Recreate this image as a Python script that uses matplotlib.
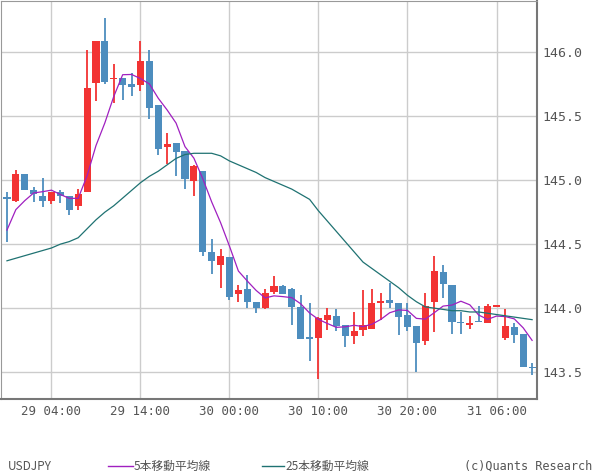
import matplotlib
matplotlib.use("Agg")
import matplotlib.pyplot as plt
import numpy as np
import pandas as pd

# hourly USDJPY candles, first candle = 28th 23:00
opens = [144.87, 144.84, 145.05, 144.92, 144.88, 144.84, 144.91, 144.88, 144.80, 144.91,
         145.76, 146.09, 145.79, 145.80, 145.75, 145.74, 145.93, 145.59, 145.26, 145.29,
         145.23, 144.99, 145.07, 144.44, 144.34, 144.40, 144.11, 144.15, 144.05, 144.00,
         144.13, 144.17, 144.15, 144.01, 143.77, 143.77, 143.91, 143.94, 143.87, 143.78,
         143.83, 143.84, 144.04, 144.06, 144.04, 143.95, 143.86, 143.74, 144.05, 144.28,
         144.18, 143.89, 143.87, 143.90, 143.88, 144.01, 143.77, 143.85, 143.80, 143.54]
highs = [144.91, 145.08, 145.05, 144.95, 145.02, 144.91, 144.92, 144.88, 144.93, 146.02,
         146.09, 146.27, 145.91, 145.80, 145.84, 146.09, 146.02, 145.59, 145.37, 145.29,
         145.23, 145.12, 145.07, 144.54, 144.46, 144.40, 144.18, 144.26, 144.05, 144.15,
         144.25, 144.18, 144.16, 144.10, 144.04, 143.93, 144.00, 143.99, 143.87, 143.97,
         144.14, 144.15, 144.12, 144.20, 144.04, 144.04, 143.86, 144.12, 144.41, 144.34,
         144.18, 143.97, 143.94, 144.02, 144.03, 144.02, 143.99, 143.88, 143.80, 143.57]
lows = [144.52, 144.83, 144.92, 144.83, 144.79, 144.81, 144.82, 144.73, 144.77, 144.91,
        145.62, 145.75, 145.60, 145.63, 145.66, 145.70, 145.48, 145.20, 145.13, 145.03,
        144.93, 144.88, 144.41, 144.27, 144.16, 144.06, 144.05, 144.00, 143.96, 143.99,
        144.11, 144.11, 143.87, 143.76, 143.59, 143.45, 143.83, 143.82, 143.70, 143.72,
        143.78, 143.84, 143.91, 144.00, 143.79, 143.82, 143.50, 143.71, 143.81, 144.08,
        143.80, 143.80, 143.84, 143.89, 143.88, 144.01, 143.75, 143.73, 143.54, 143.48]
closes = [144.85, 145.05, 144.92, 144.89, 144.84, 144.91, 144.88, 144.77, 144.89, 145.72,
          146.09, 145.77, 145.80, 145.74, 145.73, 145.93, 145.56, 145.24, 145.28, 145.22,
          145.01, 145.11, 144.44, 144.37, 144.41, 144.09, 144.14, 144.05, 144.00, 144.12,
          144.17, 144.11, 144.01, 143.76, 143.76, 143.92, 143.95, 143.86, 143.78, 143.82,
          143.87, 144.04, 144.05, 144.04, 143.93, 143.85, 143.73, 144.02, 144.29, 144.19,
          143.89, 143.88, 143.88, 143.89, 144.02, 144.02, 143.86, 143.79, 143.54, 143.53]
# 5-bar MA for the first four bars (prior data not shown)
ma5_head = [144.61, 144.77, 144.84, 144.90]
# 25-bar MA
ma25 = [144.37, 144.39, 144.41, 144.43, 144.45, 144.47, 144.50, 144.52, 144.55, 144.62,
        144.69, 144.75, 144.80, 144.86, 144.92, 144.98, 145.03, 145.07, 145.12, 145.17,
        145.20, 145.21, 145.21, 145.21, 145.19, 145.15, 145.12, 145.09, 145.06, 145.02,
        144.99, 144.96, 144.93, 144.89, 144.85, 144.76, 144.68, 144.60, 144.52, 144.44,
        144.36, 144.31, 144.26, 144.21, 144.16, 144.10, 144.05, 144.01, 144.00, 143.99,
        143.98, 143.98, 143.97, 143.97, 143.96, 143.95, 143.94, 143.93, 143.92, 143.91]
tick_pos = [5, 15, 25, 35, 45, 55]
tick_labels = ["29 04:00", "29 14:00", "30 00:00", "30 10:00", "30 20:00", "31 06:00"]
y_ticks = [143.5, 144.0, 144.5, 145.0, 145.5, 146.0]

RED = "#F23333"
BLUE = "#4D8DBE"
PURPLE = "#A020C0"
TEAL = "#1F7272"

ma5 = pd.Series(closes).rolling(5).mean().to_numpy()
ma5[:4] = ma5_head

fig = plt.figure(figsize=(6.0, 4.75), dpi=100)
ax = fig.add_axes([1 / 600, 1 - 399 / 475, 536 / 600, 398 / 475])

x = np.arange(len(opens))
for i in x:
    o, h, l, c = opens[i], highs[i], lows[i], closes[i]
    col = RED if c >= o else BLUE
    ax.vlines(i, l, h, color=col, linewidth=1.3, zorder=2)
    body = max(abs(c - o), 0.012)
    ax.bar(i, body, bottom=min(o, c), width=0.8, color=col, linewidth=0, zorder=3)

ax.plot(x, ma5, color=PURPLE, linewidth=0.9, zorder=4)
ax.plot(x, ma25, color=TEAL, linewidth=0.9, zorder=4)

ax.set_xlim(-0.67, 59.55)
ax.set_ylim(143.29, 146.40)
ax.set_xticks(tick_pos)
ax.set_xticklabels(tick_labels, fontfamily="DejaVu Sans Mono", fontsize=9, color="#555555")
ax.set_yticks(y_ticks)
ax.set_yticklabels([f"{v:.1f}" for v in y_ticks], fontfamily="DejaVu Sans Mono",
                   fontsize=9.5, color="#555555")
ax.yaxis.tick_right()
ax.tick_params(length=0, pad=4)
ax.grid(True, color="#CCCCCC", linewidth=1)
ax.set_axisbelow(True)
for s in ("top", "left"):
    ax.spines[s].set_color("#999999")
for s in ("right", "bottom"):
    ax.spines[s].set_color("#777777")
    ax.spines[s].set_linewidth(1.5)

jp = "Noto Sans CJK JP"
fig.text(8 / 600, 1 - 466 / 475, "USDJPY", fontsize=8.5, color="#555555", va="center", fontfamily=jp)
fig.add_artist(plt.Line2D([108 / 600, 133 / 600], [1 - 466 / 475] * 2, color=PURPLE, linewidth=1))
fig.text(134 / 600, 1 - 466 / 475, "5本移動平均線", fontsize=8.5, color="#555555", va="center", fontfamily=jp)
fig.add_artist(plt.Line2D([262 / 600, 284 / 600], [1 - 466 / 475] * 2, color=TEAL, linewidth=1))
fig.text(285 / 600, 1 - 466 / 475, "25本移動平均線", fontsize=8.5, color="#555555", va="center", fontfamily=jp)
fig.text(592 / 600, 1 - 466 / 475, "(c)Quants Research", fontsize=8.5, color="#555555",
         va="center", ha="right", fontfamily="DejaVu Sans Mono")

fig.savefig("out.png", dpi=100)
